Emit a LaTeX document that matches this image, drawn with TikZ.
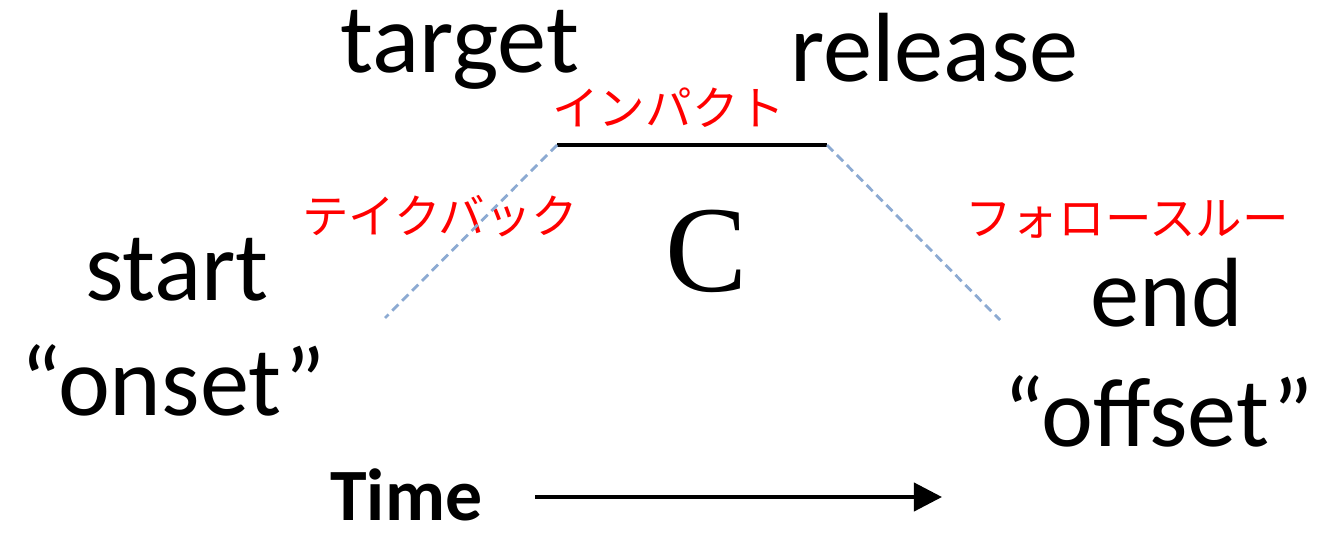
\documentclass[tikz,border=0pt]{standalone}
\usepackage{fontspec}
\setmainfont{Carlito}
\newfontfamily\cjk{Noto Sans CJK JP}
\newfontfamily\serifc{Liberation Serif}
\usetikzlibrary{arrows.meta}
\begin{document}
\begin{tikzpicture}[x=0.02cm,y=-0.02cm,
  big/.style={inner sep=0pt,anchor=base west,font=\fontsize{56}{60}\selectfont},
  jp/.style={inner sep=0pt,anchor=base west,text=red,font=\cjk\fontsize{26.5}{28}\selectfont},
  dashline/.style={draw={rgb,255:red,140;green,170;blue,210},line width=1.6pt,dash pattern=on 5pt off 3pt}]
\useasboundingbox (0,0) rectangle (1327,537);
\node[big] (target) at (340,72) {target};
\node[big] (release) at (790,82) {release};
\node[big] (start) at (85,300) {start};
\node[big] (onset) at (20,415) {“onset”};
\node[big] (end) at (1090,326) {end};
\node[big] (offset) at (1003,446) {“offset”};
\node[inner sep=0pt,anchor=base west,font=\bfseries\fontsize{42}{44}\selectfont] (time) at (330,520) {Time};
\node[inner sep=0pt,font=\serifc\fontsize{70}{72}\selectfont] (c) at (707,251) {C};
\node[jp] (impact) at (552,125) {インパクト};
\node[jp] (takeback) at (302,233) {テイクバック};
\node[jp] (follow) at (965,235) {フォロースルー};
\coordinate (a) at (557,145);
\coordinate (b) at (827,145);
\coordinate (l) at (385,318);
\coordinate (r) at (1000,320);
\coordinate (t0) at (535,497);
\coordinate (t1) at (942,497);
\draw[line width=2.3pt] (a) -- (b);
\draw[dashline] (a) -- (l);
\draw[dashline] (b) -- (r);
\draw[line width=2.3pt,-{Triangle[length=16pt,width=16pt]}] (t0) -- (t1);
\end{tikzpicture}
\end{document}
